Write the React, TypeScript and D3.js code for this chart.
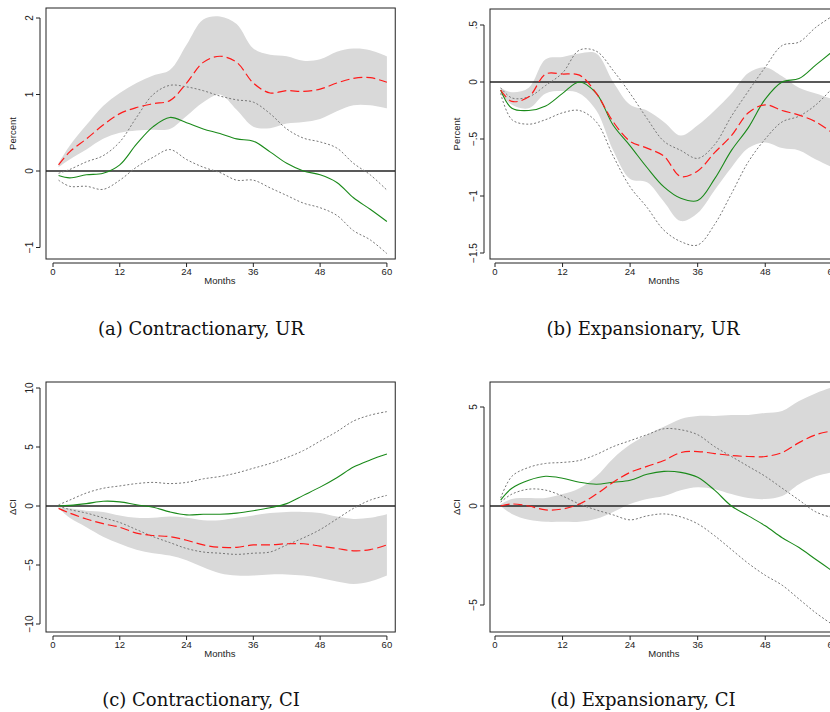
import React from 'react';
import * as d3 from 'd3';

const months = [1, 3, 6, 9, 12, 15, 18, 21, 24, 27, 30, 33, 36, 39, 42, 45, 48, 51, 54, 57, 60];

// (a) Contractionary, UR
const aRed = [0.08, 0.25, 0.42, 0.6, 0.75, 0.83, 0.88, 0.92, 1.15, 1.42, 1.5, 1.42, 1.15, 1.02, 1.05, 1.04, 1.07, 1.15, 1.21, 1.22, 1.16];
const aHi = [0.1, 0.33, 0.6, 0.85, 1.02, 1.15, 1.25, 1.32, 1.65, 1.98, 2.02, 1.92, 1.6, 1.52, 1.5, 1.44, 1.46, 1.56, 1.6, 1.58, 1.5];
const aLo = [0.05, 0.15, 0.28, 0.42, 0.5, 0.53, 0.54, 0.55, 0.72, 0.9, 1.0, 0.8, 0.58, 0.56, 0.62, 0.64, 0.68, 0.78, 0.86, 0.86, 0.82];
const aGreen = [-0.06, -0.09, -0.05, -0.03, 0.08, 0.35, 0.58, 0.7, 0.63, 0.55, 0.49, 0.42, 0.39, 0.25, 0.1, 0.0, -0.05, -0.15, -0.35, -0.5, -0.66];
const aDotHi = [-0.03, 0.02, 0.12, 0.2, 0.38, 0.7, 1.0, 1.12, 1.1, 1.05, 0.98, 0.93, 0.9, 0.75, 0.55, 0.43, 0.38, 0.3, 0.1, -0.05, -0.25];
const aDotLo = [-0.12, -0.2, -0.2, -0.24, -0.12, 0.05, 0.18, 0.28, 0.15, 0.05, -0.02, -0.12, -0.12, -0.22, -0.32, -0.42, -0.48, -0.58, -0.78, -0.9, -1.08];

// (b) Expansionary, UR
const bRed = [-0.07, -0.17, -0.13, 0.07, 0.07, 0.06, -0.1, -0.35, -0.52, -0.58, -0.65, -0.83, -0.78, -0.62, -0.47, -0.27, -0.2, -0.25, -0.29, -0.35, -0.45];
const bHi = [-0.05, -0.09, -0.05, 0.2, 0.22, 0.25, 0.25, 0.0, -0.2, -0.25, -0.35, -0.47, -0.38, -0.25, -0.1, 0.08, 0.13, 0.05, -0.05, -0.1, -0.15];
const bLo = [-0.1, -0.2, -0.23, -0.1, -0.08, -0.1, -0.25, -0.6, -0.85, -0.88, -1.05, -1.22, -1.15, -0.95, -0.75, -0.58, -0.53, -0.58, -0.6, -0.68, -0.75];
const bGreen = [-0.07, -0.23, -0.25, -0.21, -0.1, 0.0, -0.1, -0.38, -0.56, -0.75, -0.92, -1.02, -1.04, -0.85, -0.6, -0.4, -0.15, 0.0, 0.03, 0.15, 0.27];
const bDotHi = [-0.05, -0.14, -0.13, -0.03, 0.08, 0.28, 0.27, 0.1, -0.1, -0.32, -0.52, -0.6, -0.67, -0.55, -0.3, -0.08, 0.13, 0.32, 0.35, 0.48, 0.58];
const bDotLo = [-0.1, -0.33, -0.37, -0.33, -0.27, -0.25, -0.35, -0.65, -0.92, -1.1, -1.3, -1.4, -1.43, -1.25, -0.98, -0.7, -0.5, -0.35, -0.3, -0.2, -0.05];

// (c) Contractionary, CI
const cRed = [-0.2, -0.6, -1.1, -1.5, -1.8, -2.3, -2.5, -2.6, -2.9, -3.3, -3.5, -3.5, -3.3, -3.3, -3.2, -3.2, -3.4, -3.6, -3.8, -3.7, -3.3];
const cHi = [-0.1, -0.2, -0.4, -0.5, -0.8, -1.0, -1.0, -0.9, -1.0, -1.2, -1.2, -1.0, -0.8, -0.6, -0.5, -0.5, -0.6, -0.9, -1.1, -1.0, -0.7];
const cLo = [-0.2, -1.0, -1.8, -2.6, -3.2, -3.7, -4.0, -4.2, -4.6, -5.2, -5.7, -5.9, -5.9, -5.8, -5.8, -5.9, -6.1, -6.4, -6.6, -6.4, -5.9];
const cGreen = [0.0, 0.05, 0.2, 0.4, 0.35, 0.1, -0.1, -0.5, -0.75, -0.7, -0.7, -0.6, -0.4, -0.15, 0.2, 0.9, 1.6, 2.4, 3.3, 3.9, 4.4];
const cDotHi = [0.1, 0.5, 1.1, 1.5, 1.7, 1.9, 2.0, 1.9, 2.0, 2.3, 2.5, 2.8, 3.2, 3.6, 4.1, 4.7, 5.5, 6.3, 7.2, 7.7, 8.0];
const cDotLo = [0.0, -0.3, -0.6, -1.0, -1.4, -2.0, -2.6, -3.1, -3.6, -3.9, -4.0, -4.1, -4.0, -3.9, -3.3, -2.7, -2.0, -1.1, -0.2, 0.5, 0.9];

// (d) Expansionary, CI
const dRed = [0.0, 0.1, 0.0, -0.2, -0.15, 0.1, 0.6, 1.2, 1.7, 2.0, 2.3, 2.7, 2.75, 2.65, 2.55, 2.5, 2.5, 2.7, 3.2, 3.6, 3.8];
const dHi = [0.1, 0.35, 0.4, 0.4, 0.6, 0.9, 1.5, 2.4, 3.1, 3.6, 4.0, 4.4, 4.55, 4.55, 4.6, 4.6, 4.7, 4.8, 5.3, 5.7, 6.0];
const dLo = [0.0, -0.4, -0.7, -0.8, -0.8, -0.8, -0.65, -0.3, 0.1, 0.35, 0.5, 0.8, 0.95, 0.85, 0.6, 0.4, 0.35, 0.5, 1.1, 1.5, 1.7];
const dGreen = [0.3, 0.9, 1.3, 1.5, 1.4, 1.2, 1.1, 1.2, 1.3, 1.6, 1.75, 1.7, 1.45, 0.8, 0.0, -0.5, -1.0, -1.6, -2.1, -2.7, -3.3];
const dDotHi = [0.4, 1.5, 1.95, 2.15, 2.2, 2.3, 2.6, 3.0, 3.3, 3.6, 3.9, 3.85, 3.6, 3.0, 2.5, 2.0, 1.5, 0.9, 0.3, -0.3, -0.6];
const dDotLo = [0.2, 0.6, 0.85, 0.8, 0.5, 0.1, -0.2, -0.45, -0.7, -0.5, -0.4, -0.55, -0.9, -1.5, -2.2, -2.9, -3.5, -4.0, -4.7, -5.4, -6.0];

const xTicks = [0, 12, 24, 36, 48, 60];
const urTicks = [2, 1, 0, -1];
const urTicksB = [0.5, 0, -0.5, -1, -1.5];
const ciTicksC = [10, 5, 0, -5, -10];
const ciTicksD = [5, 0, -5];

const fmtB = (v: number) => (v === 0 ? '0' : (v < 0 ? '\u2212' : '') + String(Math.abs(v)).replace(/^0/, ''));
const fmt = (v: number) => (v < 0 ? '\u2212' + Math.abs(v) : String(v));

interface PanelProps {
  left: number; top: number; bottom: number;
  x0: number; pxPerMonth: number;
  yDomain: [number, number]; yRange: [number, number];
  yTicks: number[]; tickFmt: (v: number) => string;
  ylabel: string; caption: string; captionX: number; captionY: number;
  red: number[]; hi: number[]; lo: number[]; green: number[]; dotHi: number[]; dotLo: number[];
  id: string;
}

function Panel(p: PanelProps) {
  const x = d3.scaleLinear().domain([0, 60]).range([p.x0, p.x0 + 60 * p.pxPerMonth]);
  const y = d3.scaleLinear().domain(p.yDomain).range(p.yRange);
  const right = x(61.5);
  const curve = d3.curveCatmullRom;
  const line = (vals: number[]) =>
    d3.line<number>().x((_, i) => x(months[i])).y(d => y(d)).curve(curve)(vals) || '';
  const band =
    d3.area<number>().x((_, i) => x(months[i])).y0((_, i) => y(p.lo[i])).y1(d => y(d)).curve(curve)(p.hi) || '';
  const font = '"Liberation Sans", Arial, sans-serif';
  const axX = p.left - 6;
  return (
    <g>
      <clipPath id={p.id}>
        <rect x={p.left} y={p.top} width={right - p.left} height={p.bottom - p.top} />
      </clipPath>
      <g clipPath={`url(#${p.id})`}>
        <path d={band} fill="#d9d9d9" />
        <line x1={p.left} x2={right} y1={y(0)} y2={y(0)} stroke="#222" strokeWidth={1.3} />
        <path d={line(p.dotHi)} fill="none" stroke="#777" strokeWidth={1} strokeDasharray="2,2" />
        <path d={line(p.dotLo)} fill="none" stroke="#777" strokeWidth={1} strokeDasharray="2,2" />
        <path d={line(p.green)} fill="none" stroke="#1a8a1a" strokeWidth={1.1} />
        <path d={line(p.red)} fill="none" stroke="#ff1a1a" strokeWidth={1.2} strokeDasharray="9,4" />
      </g>
      <rect x={p.left} y={p.top} width={right - p.left} height={p.bottom - p.top} fill="none" stroke="#222" strokeWidth={1} />
      <line x1={axX} x2={axX} y1={y(d3.max(p.yTicks)!)} y2={y(d3.min(p.yTicks)!)} stroke="#222" />
      {p.yTicks.map(t => (
        <g key={t}>
          <line x1={axX - 4} x2={axX} y1={y(t)} y2={y(t)} stroke="#222" />
          <text transform={`translate(${axX - 7},${y(t)}) rotate(-90)`} textAnchor="middle" fontSize={10} fontFamily={font} fill="#222">
            {p.tickFmt(t)}
          </text>
        </g>
      ))}
      <text transform={`translate(${p.left - 30},${(p.top + p.bottom) / 2}) rotate(-90)`} textAnchor="middle" fontSize={9.5} fontFamily={font} fill="#222">
        {p.ylabel}
      </text>
      <line x1={x(0)} x2={x(60)} y1={p.bottom + 4} y2={p.bottom + 4} stroke="#222" />
      {xTicks.map(t => (
        <g key={t}>
          <line x1={x(t)} x2={x(t)} y1={p.bottom + 4} y2={p.bottom + 8} stroke="#222" />
          <text x={x(t)} y={p.bottom + 16} textAnchor="middle" fontSize={9.5} fontFamily={font} fill="#222">{t}</text>
        </g>
      ))}
      <text x={x(30)} y={p.bottom + 25} textAnchor="middle" fontSize={9.5} fontFamily={font} fill="#222">Months</text>
      <text x={p.captionX} y={p.captionY} textAnchor="middle" fontSize={18} fontFamily='"DejaVu Serif", serif' fill="#111">
        {p.caption}
      </text>
    </g>
  );
}

export default function App() {
  return (
    <svg width={830} height={712} style={{ position: 'absolute', left: 0, top: 0, background: '#fff' }}>
      <Panel id="ca" left={46} top={8} bottom={259} x0={53} pxPerMonth={5.565}
        yDomain={[0, 2]} yRange={[171, 18]} yTicks={urTicks} tickFmt={fmt} ylabel="Percent"
        caption="(a)  Contractionary, UR" captionX={201} captionY={335}
        red={aRed} hi={aHi} lo={aLo} green={aGreen} dotHi={aDotHi} dotLo={aDotLo} />
      <Panel id="cb" left={490} top={9} bottom={259} x0={495} pxPerMonth={5.63}
        yDomain={[0, 0.5]} yRange={[82, 25]} yTicks={urTicksB} tickFmt={fmtB} ylabel="Percent"
        caption="(b)  Expansionary, UR" captionX={643} captionY={335}
        red={bRed} hi={bHi} lo={bLo} green={bGreen} dotHi={bDotHi} dotLo={bDotLo} />
      <Panel id="cc" left={46} top={382} bottom={632} x0={53} pxPerMonth={5.565}
        yDomain={[0, 10]} yRange={[506, 388]} yTicks={ciTicksC} tickFmt={fmt} ylabel="ΔCI"
        caption="(c)  Contractionary, CI" captionX={201} captionY={706}
        red={cRed} hi={cHi} lo={cLo} green={cGreen} dotHi={cDotHi} dotLo={cDotLo} />
      <Panel id="cd" left={490} top={382} bottom={632} x0={495} pxPerMonth={5.63}
        yDomain={[0, 5]} yRange={[506, 407]} yTicks={ciTicksD} tickFmt={fmt} ylabel="ΔCI"
        caption="(d)  Expansionary, CI" captionX={643} captionY={706}
        red={dRed} hi={dHi} lo={dLo} green={dGreen} dotHi={dDotHi} dotLo={dDotLo} />
    </svg>
  );
}
